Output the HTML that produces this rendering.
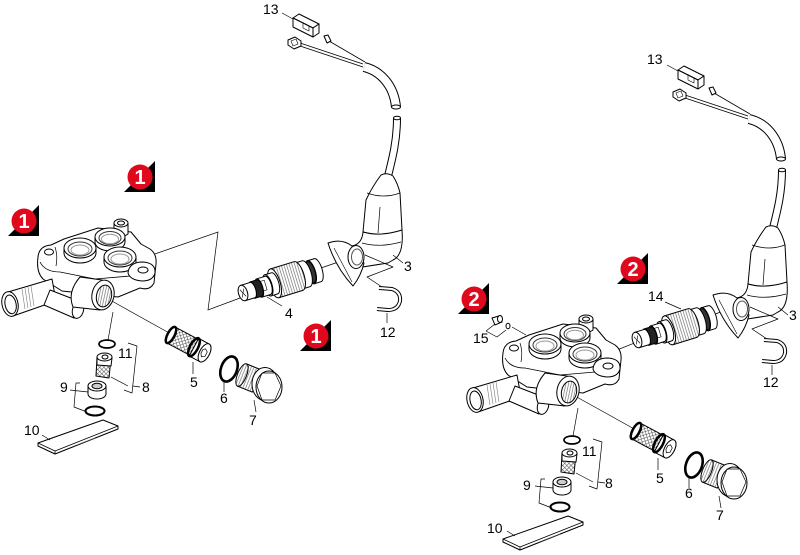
<!DOCTYPE html>
<html><head><meta charset="utf-8">
<style>
html,body{margin:0;padding:0;background:#fff;}
svg{display:block;}
text{font-family:"Liberation Sans",sans-serif;font-size:14px;fill:#000;}
.b{font-family:"Liberation Sans",sans-serif;font-weight:bold;font-size:20px;fill:#fff;}
</style></head><body>
<svg width="800" height="555" viewBox="0 0 800 555" xmlns="http://www.w3.org/2000/svg">
<defs>
<pattern id="mesh" width="3" height="3" patternUnits="userSpaceOnUse" patternTransform="rotate(45)">
 <rect width="3" height="3" fill="#fff"/>
 <path d="M0,0 L0,3 M0,0 L3,0" stroke="#444" stroke-width="0.9"/>
</pattern>
<pattern id="thr" width="2.6" height="4" patternUnits="userSpaceOnUse">
 <rect width="2.6" height="4" fill="#fff"/>
 <path d="M0.5,0 L0.5,4" stroke="#777" stroke-width="0.7"/>
</pattern>

<!-- manifold + lower parts (left coords) -->
<g id="man" fill="#fff" stroke="#000" stroke-width="1" stroke-linejoin="round">
 <path d="M110,300 L171,334 M113,312 L108,340" fill="none" stroke-width="0.7"/>
 <path d="M38,257 Q39,246 51,245 L64,239 L98,228 L131,232 L141,244 L150,249 Q157,254 156,264 L154,283 Q150,291 140,288 L118,297 L62,291 L43,279 Q36,272 38,257 Z"/>
 <path d="M40,262 Q45,272 60,272 L95,279 L130,276 L142,279" fill="none" stroke-width="0.8"/>
 <path d="M55,247 Q58,256 56,266" fill="none" stroke-width="0.7"/>
 <ellipse cx="49" cy="252" rx="4.5" ry="3"/>
 <path d="M114,223 L114,234 Q121,239 128,234 L128,223 Z"/>
 <ellipse cx="121" cy="223" rx="7" ry="4"/>
 <ellipse cx="121" cy="223" rx="3.5" ry="2"/>
 <path d="M95,237 L95,242 A15,9 0 0 0 125,242 L125,237 Z"/>
 <ellipse cx="110" cy="237" rx="15" ry="9"/>
 <ellipse cx="110" cy="238" rx="11" ry="6.5" stroke="#333"/>
 <ellipse cx="110" cy="239" rx="8.5" ry="4.8" fill="none" stroke="#999"/>
 <path d="M64,248 L64,253 A16,10 0 0 0 96,253 L96,248 Z"/>
 <ellipse cx="80" cy="248" rx="16" ry="10"/>
 <ellipse cx="80" cy="249" rx="12" ry="7" stroke="#333"/>
 <ellipse cx="80" cy="250" rx="9" ry="5" fill="none" stroke="#999"/>
 <path d="M104,257 L104,262 A16,10 0 0 0 136,262 L136,257 Z"/>
 <ellipse cx="120" cy="257" rx="16" ry="10"/>
 <ellipse cx="120" cy="258" rx="12" ry="7" stroke="#333"/>
 <ellipse cx="120" cy="259" rx="9" ry="5" fill="none" stroke="#999"/>
 <path d="M128,273 Q129,262 143,262 Q156,263 155,273 Q153,281 142,281 Q130,280 128,273 Z"/>
 <ellipse cx="143" cy="270" rx="5" ry="3"/>
 <path d="M8,292 L52,279 L56,301 L13,316 Z"/>
 <path d="M22,289 l3,20 M25,288 l3,20 M28,287 l3,20 M31,286 l3,20" stroke="#777" stroke-width="0.6" fill="none"/>
 <ellipse cx="10" cy="304" rx="8" ry="12.5" transform="rotate(-12 10 304)"/>
 <ellipse cx="10.5" cy="304.5" rx="5.5" ry="9.5" transform="rotate(-12 10 304)"/>
 <path d="M50,290 L81,302 L74,318 L44,305 Z"/>
 <ellipse cx="78" cy="310" rx="5.5" ry="8.5" transform="rotate(15 78 310)"/>
 <path d="M80,277 L102,280 L100,310 L73,307 Q67,292 80,277 Z"/>
 <ellipse cx="103" cy="295" rx="11" ry="15" transform="rotate(12 103 295)"/>
 <ellipse cx="104" cy="296" rx="7.5" ry="11" transform="rotate(12 104 296)" fill="url(#thr)"/>

 <ellipse cx="107" cy="344" rx="8" ry="4" fill="none" stroke-width="1.7"/>
 <path d="M97,357 L111,358 L109,378 L96,376 Z" fill="url(#mesh)"/>
 <path d="M97,357 L112,358 L111,366 L97,365 Z"/>
 <ellipse cx="104.5" cy="357" rx="7.5" ry="4"/>
 <ellipse cx="105" cy="357" rx="3" ry="2"/>
 <path d="M128,343 L137,346 L132,393 L124,390 M111,377 L128,386 M133,386 L140,387" fill="none" stroke-width="0.7"/>
 <path d="M88,386 L88,394 A9,5 0 0 0 106,394 L106,386 Z"/>
 <ellipse cx="97" cy="386" rx="9" ry="5"/>
 <ellipse cx="97" cy="386" rx="5" ry="2.8" fill="#ccc"/>
 <path d="M80,383 L76,383 L74,407 L87,412 M70,390 L88,392" fill="none" stroke-width="0.7"/>
 <ellipse cx="95" cy="411" rx="9.5" ry="4.5" fill="none" stroke-width="2"/>
 <!-- part 10 strip -->
 <path d="M38,443 L103,420 L118,426 L118,429 L55,454 L38,446 Z"/>
 <path d="M38,443 L55,451 L118,426 M55,451 L55,454" fill="none" stroke-width="0.8"/>
 <path d="M74,446 L95,438" fill="none" stroke-width="0.5" stroke="#666"/>
 <path d="M42,435 L50,440" fill="none" stroke-width="0.7"/>
 <g transform="translate(171,335) rotate(28)">
  <path d="M0,-9 L26,-9 L26,9 L0,9 Z" fill="url(#mesh)"/>
  <ellipse cx="0" cy="0" rx="3.5" ry="9" fill="#fff" stroke-width="2.5"/>
  <path d="M26,-10 L38,-10 A5,10 0 0 1 38,10 L26,10 Z"/>
  <ellipse cx="26" cy="0" rx="4" ry="10" fill="none" stroke-width="2.5"/>
  <ellipse cx="38" cy="0" rx="5" ry="10"/>
  <path d="M37,-4 L40,-2 L40,3 L37,5 L35,2 L35,-2 Z" fill="none" stroke-width="0.7"/>
 </g>
 <path d="M193,362 L193,374" fill="none" stroke-width="0.7"/>
 <ellipse cx="229" cy="369" rx="8" ry="13" transform="rotate(20 229 369)" fill="none" stroke-width="2.6"/>
 <path d="M224,381 L224,392" fill="none" stroke-width="0.7"/>
 <g transform="translate(242,375) rotate(22)">
  <path d="M0,-12 L16,-12 L16,12 L0,12 Z" fill="url(#thr)"/>
  <ellipse cx="0" cy="0" rx="4.5" ry="12" fill="url(#thr)"/>
 </g>
 <ellipse cx="265" cy="384" rx="13" ry="16.5"/>
 <ellipse cx="269" cy="387" rx="13" ry="16"/>
 <path d="M262,373 L275,373 L281,386 L275,400 L262,400 L257,386 Z" fill="none" stroke-width="0.7"/>
 <path d="M254,400 L256,412" fill="none" stroke-width="0.7"/>
</g>

<g id="cart" fill="#fff" stroke="#000" stroke-width="1">
 <path d="M71,-12 L78,-12 A4.6,12 0 0 1 78,12 L71,12 Z"/>
 <ellipse cx="71" cy="0" rx="4.6" ry="12"/>
 <path d="M66,-11 L71,-11 A4.2,11 0 0 1 71,11 L66,11 Z" fill="#333"/>
 <ellipse cx="66" cy="0" rx="4.2" ry="11" fill="#333"/>
 <path d="M58,-13.5 L66,-13.5 A5.1,13.5 0 0 1 66,13.5 L58,13.5 Z"/>
 <ellipse cx="58" cy="0" rx="5.1" ry="13.5"/>
 <path d="M33,-15 L58,-15 A5.7,15 0 0 1 58,15 L33,15 Z" fill="url(#thr)"/>
 <ellipse cx="33" cy="0" rx="5.7" ry="15"/>
 <path d="M26,-11 L33,-11 A4.2,11 0 0 1 33,11 L26,11 Z"/>
 <ellipse cx="26" cy="0" rx="4.2" ry="11"/>
 <path d="M17,-9.5 L26,-9.5 A3.6,9.5 0 0 1 26,9.5 L17,9.5 Z"/>
 <path d="M19,-6 L24,-6 L24,4 L19,4 Z" fill="none" stroke-width="0.6"/>
 <ellipse cx="17" cy="0" rx="3.6" ry="9.5"/>
 <path d="M10,-8.5 L17,-8.5 A3.2,8.5 0 0 1 17,8.5 L10,8.5 Z" fill="#222"/>
 <ellipse cx="10" cy="0" rx="3.2" ry="8.5" fill="#222"/>
 <path d="M0,-8 L10,-8 A3.2,8 0 0 1 10,8 L0,8 Z"/>
 <ellipse cx="0" cy="0" rx="4.5" ry="8"/>
 <path d="M-2,-4 L2,4 M2,-4 L-2,4" fill="none" stroke-width="0.6"/>
</g>

<g id="elb" fill="#fff" stroke="#000" stroke-width="1" stroke-linejoin="round">
 <path d="M300,43 L363,64 M300,46 L363,67 M329,41 L365,62" fill="none" stroke-width="0.8"/>
 <path d="M288,40 L295,37 L301,41 L301,46 L294,49 L288,45 Z"/>
 <path d="M291,41 L296,39 L298,44 L293,46 Z" fill="none" stroke-width="0.6"/>
 <path d="M324,36 L328,35 L331,41 L327,43 Z"/>
 <path d="M293,18 L299,14 L319,24 L313,28 Z"/>
 <path d="M293,18 L313,28 L313,37 L293,27 Z"/>
 <path d="M313,28 L319,24 L319,33 L313,37 Z"/>
 <path d="M303,23 L309,26 L309,31 L303,28 Z" fill="none" stroke-width="0.6"/>
 <path d="M364,67 C381,71 394,86 396,107" fill="none" stroke="#000" stroke-width="10"/>
 <path d="M364,67 C381,71 394,86 396,107" fill="none" stroke="#fff" stroke-width="8"/>
 <ellipse cx="396" cy="107" rx="4.5" ry="2"/>
 <path d="M397,118 C397,142 392,160 387,180" fill="none" stroke="#000" stroke-width="8"/>
 <path d="M397,118 C397,142 392,160 387,180" fill="none" stroke="#fff" stroke-width="6"/>
 <ellipse cx="397" cy="118" rx="3.5" ry="1.8"/>
 <!-- boot -->
 <path d="M381,175 Q387,172 393,176 Q398,184 400,193 L402,230 Q390,236 372,234 L363,232 L366,200 Q372,187 381,175 Z"/>
 <path d="M367,193 Q384,199 400,193 M380,207 L378,233" fill="none" stroke-width="0.7"/>
 <!-- collar + elbow -->
 <path d="M363,232 Q380,237 402,230 Q404,255 393,260 L388,263 L356,268 L352,246 Q362,244 363,232 Z"/>
 <path d="M362,243 Q380,248 401,242" fill="none" stroke-width="0.7"/>
 <path d="M328,243 Q342,238 352,246 L364,263 Q361,276 353,286 Q336,268 328,243 Z"/>
 <path d="M334,248 Q343,265 352,282" fill="none" stroke-width="0.6"/>
 <ellipse cx="356" cy="257" rx="8" ry="11.5"/>
 <ellipse cx="357" cy="257" rx="5.5" ry="8" fill="none" stroke="#555"/>
 <path d="M393,255 L403,263 M365,255 L393,267 L367,277 L382,287 M387,313 L387,323 M282,13 L293,19" fill="none" stroke-width="0.7"/>
 <path d="M379,288 L392,289 Q401,292 400,301 Q398,310 388,310 L377,309" fill="none" stroke="#000" stroke-width="4"/>
 <path d="M379,288 L392,289 Q401,292 400,301 Q398,310 388,310 L377,309" fill="none" stroke="#fff" stroke-width="2"/>
</g>
</defs>

<rect width="800" height="555" fill="#fff"/>

<path d="M152,255 L218,232 L208,310 L240,298 M267,297 L282,306 M321,268 L350,258" fill="none" stroke="#000" stroke-width="0.7"/>
<use href="#elb"/>
<use href="#cart" transform="translate(243,293) rotate(-17)"/>
<use href="#man"/>

<path d="M617,350 L637,342 M665,302 L681,309 M708,317 L733,307 M486,331 L495,324 M486,331 L497,337 L506,330 M512,327 L526,335" fill="none" stroke="#000" stroke-width="0.7"/>
<use href="#elb" transform="translate(385,52)"/>
<use href="#cart" transform="translate(637,340) rotate(-17)"/>
<use href="#man" transform="translate(465,96)"/>
<g fill="#fff" stroke="#000" stroke-width="1">
 <path d="M492,318 L499,316 L502,322 L495,325 Z"/>
 <ellipse cx="500" cy="319" rx="2.5" ry="3.5"/>
 <ellipse cx="508" cy="326" rx="2" ry="2.8" fill="none"/>
</g>

<text x="263" y="14">13</text>
<text x="404" y="271">3</text>
<text x="285" y="318">4</text>
<text x="380" y="337">12</text>
<text x="118" y="358">11</text>
<text x="142" y="392">8</text>
<text x="190" y="387">5</text>
<text x="60" y="392">9</text>
<text x="220" y="403">6</text>
<text x="249" y="425">7</text>
<text x="24" y="435">10</text>
<text x="647" y="64">13</text>
<text x="648" y="301">14</text>
<text x="789" y="320">3</text>
<text x="473" y="343">15</text>
<text x="763" y="387">12</text>
<text x="582" y="456">11</text>
<text x="605" y="488">8</text>
<text x="656" y="483">5</text>
<text x="523" y="490">9</text>
<text x="685" y="498">6</text>
<text x="716" y="520">7</text>
<text x="487" y="533">10</text>

<g>
 <path d="M39,205 L39,236 L8,236 Z" fill="#000"/>
 <circle cx="24" cy="221" r="12.5" fill="#e0081c"/>
 <text class="b" x="24" y="228" text-anchor="middle">1</text>
 <path d="M155,161 L155,192 L124,192 Z" fill="#000"/>
 <circle cx="140" cy="177" r="12.5" fill="#e0081c"/>
 <text class="b" x="140" y="184" text-anchor="middle">1</text>
 <path d="M331,320 L331,351 L300,351 Z" fill="#000"/>
 <circle cx="316" cy="336" r="12.5" fill="#e0081c"/>
 <text class="b" x="316" y="343" text-anchor="middle">1</text>
 <path d="M489,283 L489,314 L458,314 Z" fill="#000"/>
 <circle cx="474" cy="299" r="12.5" fill="#e0081c"/>
 <text class="b" x="474" y="306" text-anchor="middle">2</text>
 <path d="M648,253 L648,284 L617,284 Z" fill="#000"/>
 <circle cx="633" cy="269" r="12.5" fill="#e0081c"/>
 <text class="b" x="633" y="276" text-anchor="middle">2</text>
</g>
</svg>
</body></html>
